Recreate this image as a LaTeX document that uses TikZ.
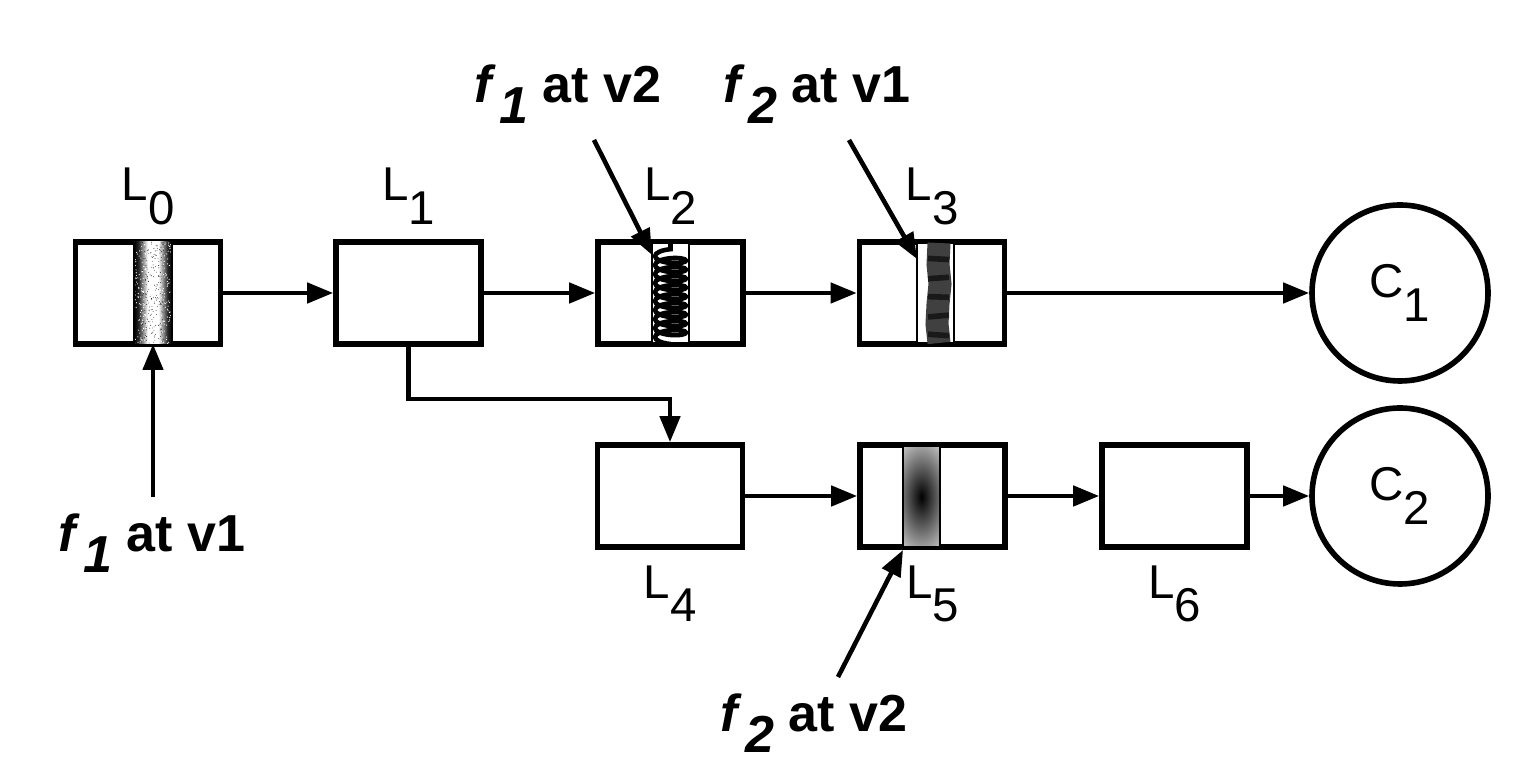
\documentclass[tikz,border=0pt]{standalone}
\usepackage{fontspec}
\setmainfont{Liberation Sans}
\usepackage{tikz}
\usetikzlibrary{arrows.meta, positioning, calc, decorations.pathmorphing}

\newcommand{\lsub}[2]{#1\raisebox{-0.5em}{#2}}
\newcommand{\fat}[2]{\textbf{\textit{f}\kern0.05em\raisebox{-0.4em}{\textit{#1}} at v#2}}

\pgfdeclarehorizontalshading{noisesh}{100bp}{color(0bp)=(black);
    color(25bp)=(black); color(31bp)=(black!85); color(43bp)=(white);
    color(57bp)=(white); color(69bp)=(black!85); color(75bp)=(black);
    color(100bp)=(black)}

\begin{document}
\begin{tikzpicture}[
    lay/.style={draw, line width=1.6pt, minimum width=1.45cm,
                minimum height=1.02cm, inner sep=0pt},
    cls/.style={draw, circle, line width=1.6pt, minimum size=1.76cm,
                inner sep=0pt, font=\fontsize{13.5}{15}\selectfont},
    lab/.style={inner sep=0pt, font=\fontsize{13.5}{15}\selectfont},
    flab/.style={anchor=base, inner sep=0pt, font=\fontsize{14.8}{16}\selectfont},
    arr/.style={line width=1.3pt,
                -{Triangle[length=0.26cm, width=0.2cm]}},
    strip/.style={draw, line width=0.6pt, fill=white},
]
\useasboundingbox (0,0) rectangle (15.36,7.74);

% -- Layers and classes --
\node[lay] (L0) at (1.48, 4.81) {};
\node[lay] (L1) at (4.085, 4.81) {};
\node[lay] (L2) at (6.705, 4.81) {};
\node[lay] (L3) at (9.32, 4.81) {};
\node[lay] (L4) at (6.70, 2.78) {};
\node[lay] (L5) at (9.325, 2.78) {};
\node[lay] (L6) at (11.745, 2.78) {};
\node[cls] (C1) at (14.00, 4.81) {\lsub{C}{1}};
\node[cls] (C2) at (14.00, 2.78) {\lsub{C}{2}};

% -- Layer names --
\node[lab, above=0.14cm of L0] {\lsub{L}{0}};
\node[lab, above=0.14cm of L1] {\lsub{L}{1}};
\node[lab, above=0.14cm of L2] {\lsub{L}{2}};
\node[lab, above=0.14cm of L3] {\lsub{L}{3}};
\node[lab, below=0.15cm of L4] {\lsub{L}{4}};
\node[lab, below=0.15cm of L5] {\lsub{L}{5}};
\node[lab, below=0.15cm of L6] {\lsub{L}{6}};

% -- Fault at L0 (noise) --
\begin{scope}
    \clip (1.34, 4.30) rectangle (1.72, 5.32);
    \shade[shading=noisesh] (1.34, 4.30) rectangle (1.72, 5.32);
    \pgfmathsetseed{11}
    \foreach \k in {1,...,300}{
        \fill[white] ({1.34+0.38*rnd}, {4.30+1.02*rnd}) circle (0.006);
    }
    \foreach \k in {1,...,200}{
        \fill[black] ({1.42+0.22*rnd}, {4.30+1.02*rnd}) circle (0.004);
    }
\end{scope}
\draw[line width=0.6pt] (1.34, 4.30) -- (1.34, 5.32)
    (1.72, 4.30) -- (1.72, 5.32);

% -- Fault at L2 (coil) --
\draw[strip] (6.52, 4.31) rectangle (6.89, 5.31);
\begin{scope}
    \clip (6.53, 4.31) rectangle (6.88, 5.31);
    \draw[line width=1.3pt, decorate,
          decoration={coil, amplitude=0.155cm, segment length=0.09cm,
                      aspect=0.3}]
        (6.705, 4.30) -- (6.705, 5.30);
\end{scope}

% -- Fault at L3 (broken band) --
\draw[strip] (9.17, 4.31) rectangle (9.54, 5.31);
\draw[line width=0.23cm, black!75]
    (9.39, 5.31) -- (9.38, 5.10) -- (9.40, 4.90) -- (9.38, 4.70)
    -- (9.37, 4.50) -- (9.39, 4.31);
\foreach \yy/\rr in {5.15/-3, 4.96/4, 4.77/-2, 4.58/5, 4.39/-4}
    \fill[black!90, rotate around={\rr:(9.39,\yy)}]
        (9.28, \yy-0.028) rectangle (9.49, \yy+0.028);

% -- Fault at L5 (radial spot) --
\begin{scope}
    \clip (9.03, 2.27) rectangle (9.40, 3.28);
    \shade[inner color=black, outer color=white]
        (9.215, 2.77) ellipse (0.42 and 0.8);
\end{scope}
\draw[line width=0.6pt] (9.03, 2.27) rectangle (9.40, 3.28);

% -- Connections --
\draw[arr] (L0) -- (L1);
\draw[arr] (L1) -- (L2);
\draw[arr] (L2) -- (L3);
\draw[arr] (L3) -- (C1);
\draw[arr] (L1.south) -- ++(0,-0.52) -| (L4.north);
\draw[arr] (L4) -- (L5);
\draw[arr] (L5) -- (L6);
\draw[arr] (L6) -- (C2);

% -- Fault labels --
\node[flab] (f1v1) at (1.52, 2.22) {\fat{1}{1}};
\node[flab] (f1v2) at (5.68, 6.71) {\fat{1}{2}};
\node[flab] (f2v1) at (8.17, 6.71) {\fat{2}{1}};
\node[flab] (f2v2) at (8.14, 0.42) {\fat{2}{2}};

\coordinate (a0) at (1.53, 2.77);
\coordinate (a1) at (5.94, 6.34);
\coordinate (a2) at (8.49, 6.34);
\coordinate (a3) at (8.38, 0.97);
\draw[arr] (a0) -- (1.53, 4.30);
\draw[arr] (a1) -- (6.52, 5.19);
\draw[arr] (a2) -- (9.17, 5.15);
\draw[arr] (a3) -- (9.03, 2.24);

\end{tikzpicture}
\end{document}
